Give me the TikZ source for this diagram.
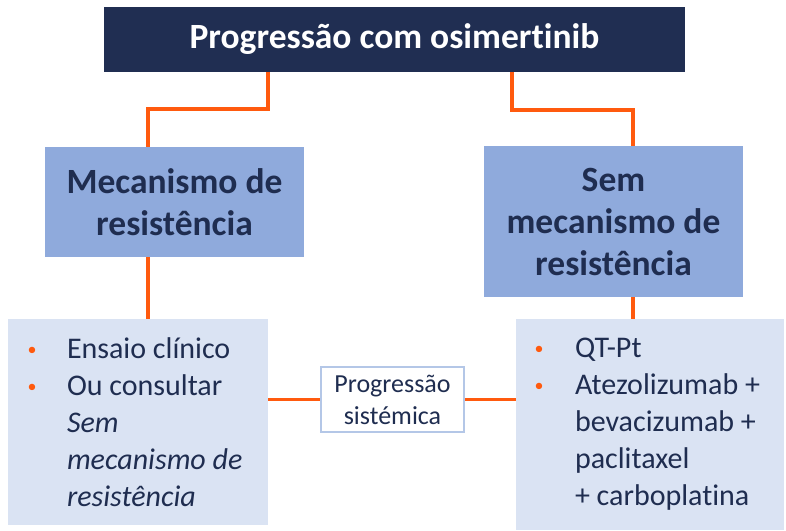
\documentclass[tikz,border=0pt]{standalone}
\usepackage{fontspec}
\setmainfont{Carlito}[Ligatures=NoCommon, Contextuals=NoAlternate]
\definecolor{navy}{HTML}{1F2D50}
\definecolor{topfill}{HTML}{202E52}
\definecolor{midfill}{HTML}{8FAADC}
\definecolor{lowfill}{HTML}{DAE3F3}
\definecolor{lblborder}{HTML}{B4C7E7}
\definecolor{orng}{HTML}{FF5A0E}
\newcommand{\bulmark}[1]{\hspace*{#1}\makebox[0pt][c]{\raisebox{3pt}{\textcolor{orng}{\fontsize{18}{18}\selectfont•}}}}
\begin{document}
\begin{tikzpicture}[x=1pt,y=-1pt,
  topbox/.style={rectangle, fill=topfill, text=white, inner sep=0pt,
    font=\fontsize{35.5}{42}\selectfont\bfseries},
  midbox/.style={rectangle, fill=midfill, text=navy, inner sep=0pt, align=center,
    font=\fontsize{35.5}{42}\selectfont\bfseries},
  lowbox/.style={rectangle, fill=lowfill, text=navy, inner sep=0pt, align=flush left,
    font=\fontsize{30}{37}\selectfont},
  lblbox/.style={rectangle, fill=white, draw=lblborder, line width=1.5pt, text=navy,
    inner sep=0pt, align=flush center, font=\fontsize{26}{32}\selectfont},
  conn/.style={draw=orng, line width=3.5pt}]
\useasboundingbox (0,0) rectangle (786,530);
% boxes
\node[topbox, minimum width=581pt, minimum height=65pt] (top) at (394.5,39.5) {Progressão com osimertinib};
\node[midbox, minimum width=259pt, minimum height=110pt] (lm) at (174.5,202) {Mecanismo de\\resistência};
\node[midbox, minimum width=259pt, minimum height=151pt] (rm) at (613.5,221.5) {Sem\\mecanismo de\\resistência};
\node[lowbox, text width=260pt, minimum height=206pt] (lb) at (138,422) {%
\bulmark{24pt}\hspace*{35pt}Ensaio clínico\\
\bulmark{24pt}\hspace*{35pt}Ou consultar\\
\hspace*{59pt}\textit{Sem}\\
\hspace*{59pt}\textit{mecanismo de}\\
\hspace*{59pt}\textit{resistência}};
\node[lowbox, text width=268pt, minimum height=211pt] (rb) at (650,424.5) {%
\bulmark{23pt}\hspace*{36pt}QT-Pt\\
\bulmark{23pt}\hspace*{36pt}Atezolizumab +\\
\hspace*{59pt}bevacizumab +\\
\hspace*{59pt}paclitaxel\\
\hspace*{59pt}+ carboplatina};
\node[lblbox, minimum width=143pt, minimum height=65pt] (lab) at (392.5,399.5) {Progressão\\sistémica};
% connector helper coordinates
\coordinate (tl) at (268,109);
\coordinate (lx) at (148,0);
\coordinate (tr) at (512,110);
\coordinate (rx) at (633,0);
% connectors
\draw[conn] (top.south -| tl) -- (tl) -| (lm.north -| lx);
\draw[conn] (lm.south -| lx) -- (lb.north -| lx);
\draw[conn] (top.south -| tr) -- (tr) -| (rm.north -| rx);
\draw[conn] (rm.south -| rx) -- (rb.north -| rx);
\draw[conn] (lb.east |- lab.west) -- (lab.west);
\draw[conn] (lab.east) -- (rb.west |- lab.east);
\end{tikzpicture}
\end{document}
